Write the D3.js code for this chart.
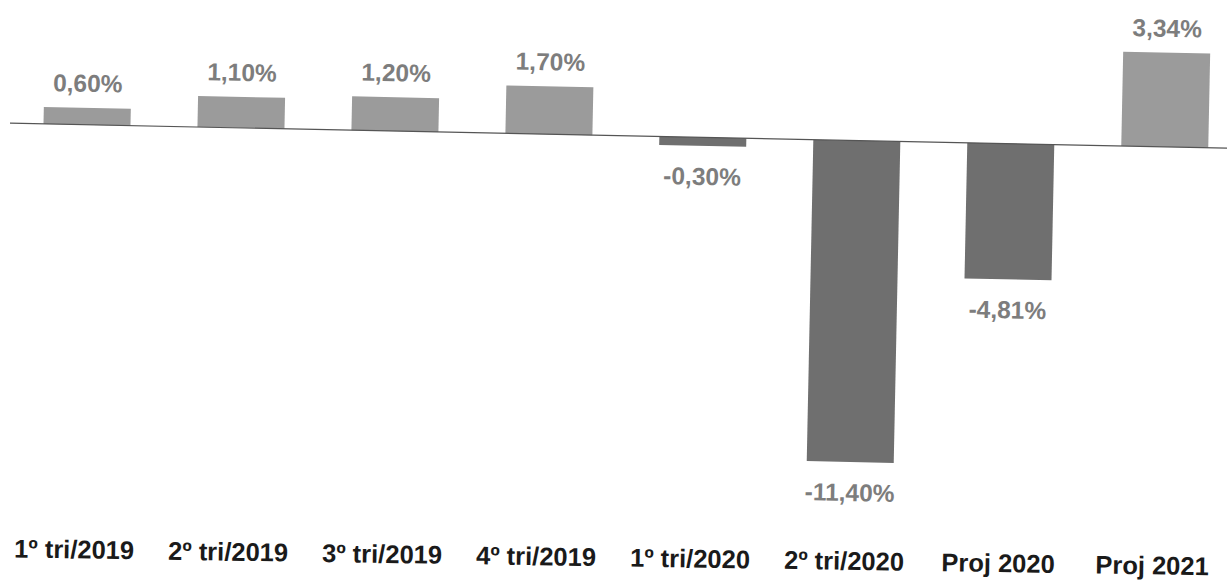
<!DOCTYPE html>
<html>
<head>
<meta charset="utf-8">
<script src="https://cdn.jsdelivr.net/npm/d3@7"></script>
<style>
  body { margin: 0; background: #fff; }
  svg { display: block; }
</style>
</head>
<body>
<div id="chart"></div>
<script>
const categories = ['1º tri/2019', '2º tri/2019', '3º tri/2019', '4º tri/2019', '1º tri/2020', '2º tri/2020', 'Proj 2020', 'Proj 2021']
const values = [0.60, 1.10, 1.20, 1.70, -0.30, -11.40, -4.81, 3.34]
const valueLabels = ['0,60%', '1,10%', '1,20%', '1,70%', '-0,30%', '-11,40%', '-4,81%', '3,34%']

const WIDTH = 1227
const HEIGHT = 586
const BASE_Y = 123
// the source is a slightly skewed scan
const PLOT_TILT = Math.atan(0.0205) * 180 / Math.PI
const LABEL_TILT = Math.atan(0.0149) * 180 / Math.PI

const data = categories.map((c, i) => ({ cat: c, value: values[i], label: valueLabels[i] }))

const svg = d3.select('#chart')
    .append('svg')
    .attr('width', WIDTH)
    .attr('height', HEIGHT)

const x = d3.scaleBand()
    .domain(categories)
    .range([10, 1242])
    .paddingInner(0.435)
    .paddingOuter(0.2175)

const y = d3.scaleLinear()
    .domain([-11.40, 3.34])
    .range([BASE_Y + 321.5, BASE_Y - 94.2])

const g = svg.append('g')
    .attr('transform', `rotate(${PLOT_TILT}, 0, ${BASE_Y})`)

// bars
g.selectAll('rect.bar')
    .data(data)
    .enter().append('rect')
    .attr('class', 'bar')
    .attr('x', d => x(d.cat))
    .attr('width', x.bandwidth())
    .attr('y', d => y(Math.max(0, d.value)))
    .attr('height', d => Math.abs(y(d.value) - y(0)))
    .attr('fill', d => d.value >= 0 ? '#9b9b9b' : '#6f6f6f')

// zero line
g.append('line')
    .attr('x1', 10)
    .attr('x2', 1245)
    .attr('y1', y(0))
    .attr('y2', y(0))
    .attr('stroke', '#555')
    .attr('stroke-width', 1.2)

// value labels
g.selectAll('text.value')
    .data(data)
    .enter().append('text')
    .attr('class', 'value')
    .attr('x', d => x(d.cat) + x.bandwidth() / 2)
    .attr('y', d => d.value >= 0 ? y(d.value) - 16 : y(d.value) + 39)
    .attr('text-anchor', 'middle')
    .attr('font-family', 'Liberation Sans, Arial, sans-serif')
    .attr('font-size', 24.5)
    .attr('font-weight', 'bold')
    .attr('fill', '#7d7d7d')
    .text(d => d.label)

// category labels
const axisG = svg.append('g')
    .attr('transform', `translate(-13, 0) rotate(${LABEL_TILT}, 0, 559)`)

axisG.selectAll('text.cat')
    .data(data)
    .enter().append('text')
    .attr('class', 'cat')
    .attr('x', d => x(d.cat) + x.bandwidth() / 2)
    .attr('y', 557)
    .attr('text-anchor', 'middle')
    .attr('font-family', 'Liberation Sans, Arial, sans-serif')
    .attr('font-size', 25.5)
    .attr('font-weight', 'bold')
    .attr('fill', '#1a1a1a')
    .text(d => d.cat)
</script>
</body>
</html>
